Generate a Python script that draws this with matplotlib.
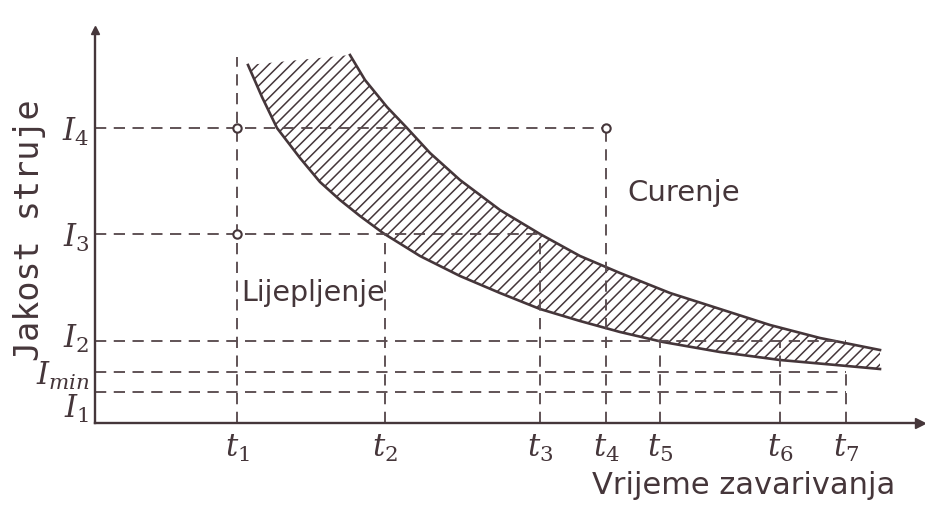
import matplotlib.pyplot as plt
from matplotlib.transforms import ScaledTranslation

plt.rcParams['font.family'] = 'DejaVu Sans'
plt.rcParams['mathtext.fontset'] = 'dejavuserif'
plt.rcParams['hatch.linewidth'] = 1.1

INK = '#45363a'
DASH = '#5a4c50'

# time marks on the x axis (arbitrary units)
t_names = [r'$t_1$', r'$t_2$', r'$t_3$', r'$t_4$', r'$t_5$', r'$t_6$', r'$t_7$']
t_vals = [142, 290, 445, 511, 565, 685, 751]

# current levels on the y axis (arbitrary units)
i_names = [r'$I_1$', r'$I_{min}$', r'$I_2$', r'$I_3$', r'$I_4$']
i_vals = [31, 51, 82, 189, 295]
top_val = 366

# upper limit curve (splashing above it)
upper_x = [255, 270, 292, 312, 335, 365, 405, 445, 485, 525, 575, 625, 675, 725, 785]
upper_y = [368, 343, 316, 295, 270, 243, 213, 189, 167, 150, 130, 114, 98, 85, 73]

# lower limit curve (sticking below it)
lower_x = [153, 167, 182, 205, 225, 245, 265, 288, 325, 365, 405, 445, 485, 525,
           568, 625, 685, 752, 785]
lower_y = [358, 326, 295, 265, 241, 223, 207, 190, 167, 147, 130, 114, 102, 91,
           81, 71, 63, 57, 54]

# marked working points
pts_x = [t_vals[0], t_vals[3], t_vals[0]]
pts_y = [i_vals[4], i_vals[4], i_vals[3]]

fig = plt.figure(figsize=(9.25, 5.05), dpi=100)
ax = fig.add_axes([95 / 925, 82 / 505, 825 / 925, 393 / 505])
ax.set_xlim(0, 825)
ax.set_ylim(0, 393)

for s in ['top', 'right']:
    ax.spines[s].set_visible(False)
for s in ['left', 'bottom']:
    ax.spines[s].set_color(INK)
    ax.spines[s].set_linewidth(1.7)
ax.plot(1, 0, '>', color=INK, ms=7, transform=ax.transAxes, clip_on=False)
ax.plot(0, 1, '^', color=INK, ms=6, transform=ax.transAxes, clip_on=False)

# hatched band between the two curves
ax.fill(upper_x + lower_x[::-1], upper_y + lower_y[::-1],
        facecolor='none', edgecolor=INK, hatch='///', linewidth=0)
ax.plot(upper_x, upper_y, color=INK, lw=1.9)
ax.plot(lower_x, lower_y, color=INK, lw=1.9)

# guide lines
ls = (0, (6, 4))
h_end = [t_vals[6], t_vals[6], t_vals[6], t_vals[2], t_vals[3]]
ax.hlines(i_vals, 0, h_end, colors=DASH, linestyles=ls, lw=1.35)
v_end = [top_val, i_vals[3], i_vals[3], i_vals[4], i_vals[2], i_vals[2], i_vals[1]]
ax.vlines(t_vals, 0, v_end, colors=DASH, linestyles=ls, lw=1.35)

ax.plot(pts_x, pts_y, 'o', ms=6, mfc='white', mec=INK, mew=1.5, zorder=5)

ax.set_xticks(t_vals, t_names, fontsize=22, color=INK)
ax.set_yticks(i_vals, i_names, fontsize=22, color=INK)
ax.tick_params(axis='x', length=0, pad=7)
ax.tick_params(axis='y', length=0, pad=4)

ylabels = ax.get_yticklabels()
ylabels[0].set_transform(ylabels[0].get_transform()
                         + ScaledTranslation(0, -10 / 72, fig.dpi_scale_trans))
ylabels[2].set_transform(ylabels[2].get_transform()
                         + ScaledTranslation(0, 4 / 72, fig.dpi_scale_trans))

ax.text(532, 230, 'Curenje', fontsize=21, color=INK, va='center')
ax.text(146, 130, 'Lijepljenje', fontsize=20.5, color=INK, va='center')
ax.text(0.97, -0.158, 'Vrijeme zavarivanja', transform=ax.transAxes,
        ha='right', va='center', fontsize=22, color=INK)
ax.text(-0.079, 0.49, 'Jakost struje', rotation=90, family='DejaVu Sans Mono',
        fontsize=24, color=INK, transform=ax.transAxes, ha='center', va='center')

fig.savefig('out.png', dpi=100)
